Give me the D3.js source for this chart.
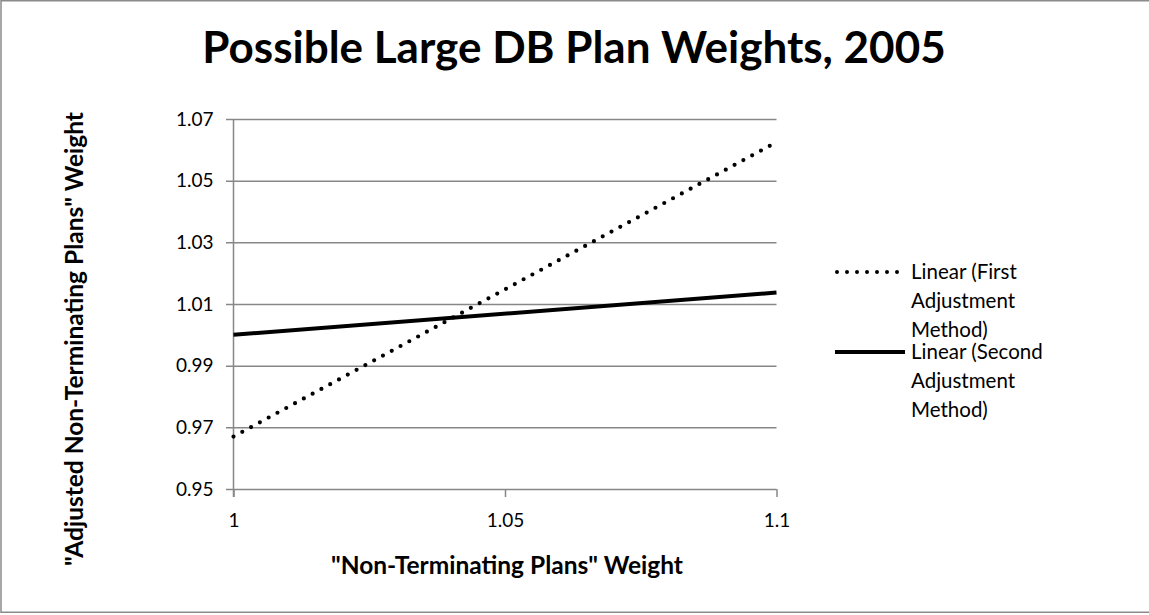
<!DOCTYPE html>
<html><head><meta charset="utf-8">
<script src="https://cdn.jsdelivr.net/npm/d3@7/dist/d3.min.js"></script>
<style>
html,body{margin:0;padding:0;background:#fff;overflow:hidden}
text{font-family:Lato,"Open Sans",sans-serif;fill:#000}
</style></head>
<body>
<svg id="chart" width="1149" height="615"></svg>
<script>
const xValues = [1, 1.1];
const firstMethod = [0.967, 1.0625];
const secondMethod = [1.0, 1.0137];
const seriesNames = ["Linear (First Adjustment Method)", "Linear (Second Adjustment Method)"];
const legendLines = [["Linear (First", "Adjustment", "Method)"], ["Linear (Second", "Adjustment", "Method)"]];
const yTicks = [0.95, 0.97, 0.99, 1.01, 1.03, 1.05, 1.07];
const yTickLabels = ["0.95", "0.97", "0.99", "1.01", "1.03", "1.05", "1.07"];
const xTicks = [1, 1.05, 1.1];
const xTickLabels = ["1", "1.05", "1.1"];
const title = "Possible Large DB Plan Weights, 2005";
const xTitle = "\"Non-Terminating Plans\" Weight";
const yTitle = "\"Adjusted Non-Terminating Plans\" Weight";

const svg = d3.select("#chart");
const grid = "#878787";

svg.append("rect").attr("x", 1).attr("y", 0.75).attr("width", 1160).attr("height", 611.5)
  .attr("fill", "#fff").attr("stroke", "#8a8a8a").attr("stroke-width", 1.5);

const x = d3.scaleLinear().domain([1, 1.1]).range([233.5, 776.5]);
const y = d3.scaleLinear().domain([0.95, 1.07]).range([489, 119]);

// title
svg.append("text").attr("x", 574).attr("y", 63).attr("text-anchor", "middle")
  .style("font-weight", "bold").style("font-size", "44px").text(title);

// y axis gridlines + labels
const yAxis = svg.append("g").attr("transform", `translate(${x(1)},0)`)
  .call(d3.axisLeft(y).tickValues(yTicks).tickFormat((d, i) => yTickLabels[i]).tickSize(0).tickPadding(20));
yAxis.select(".domain").remove();
yAxis.selectAll(".tick line").attr("x1", -7.5).attr("x2", x(1.1) - x(1)).attr("stroke", grid).attr("stroke-width", 1.5);
yAxis.selectAll(".tick text").style("font-size", "19px").style("font-family", "Lato").attr("fill", "#000");

// x axis
const xAxis = svg.append("g").attr("transform", `translate(0,${y(0.95)})`)
  .call(d3.axisBottom(x).tickValues(xTicks).tickFormat((d, i) => xTickLabels[i]).tickSize(8).tickPadding(17));
xAxis.select(".domain").remove();
xAxis.selectAll(".tick line").attr("stroke", grid).attr("stroke-width", 1.5);
xAxis.selectAll(".tick text").style("font-size", "19px").style("font-family", "Lato").attr("fill", "#000");

// y axis line
svg.append("line").attr("x1", x(1)).attr("x2", x(1)).attr("y1", y(1.07)).attr("y2", y(0.95) + 8)
  .attr("stroke", grid).attr("stroke-width", 1.5);

// series
const line = d3.line().x(d => x(d[0])).y(d => y(d[1]));
const d1 = xValues.map((v, i) => [v, firstMethod[i]]);
const d2 = xValues.map((v, i) => [v, secondMethod[i]]);
svg.append("path").attr("d", line(d2)).attr("fill", "none").attr("stroke", "#000").attr("stroke-width", 4);
svg.append("path").attr("d", line(d1)).attr("fill", "none").attr("stroke", "#000").attr("stroke-width", 4.2)
  .attr("stroke-linecap", "round").attr("stroke-dasharray", "0 10");

// axis titles
svg.append("text").attr("x", 507).attr("y", 574).attr("text-anchor", "middle")
  .style("font-weight", "bold").style("font-size", "24.5px").text(xTitle);
svg.append("text").attr("transform", "translate(83,339) rotate(-90)").attr("text-anchor", "middle")
  .style("font-weight", "bold").style("font-size", "24.5px").text(yTitle);

// legend
const legend = svg.append("g");
const lineH = 29;
const entryY = [272, 352];
legendLines.forEach((lines, k) => {
  const g = legend.append("g");
  const ln = g.append("line").attr("x1", 835).attr("x2", 905).attr("y1", entryY[k]).attr("y2", entryY[k])
    .attr("stroke", "#000").attr("stroke-width", 4);
  if (k === 0) ln.attr("stroke-linecap", "round").attr("stroke-dasharray", "0 10").attr("x1", 837);
  lines.forEach((t, j) => {
    g.append("text").attr("x", 911).attr("y", entryY[k] + j * lineH).attr("dy", "0.36em")
      .style("font-size", "20.5px").text(t);
  });
});
</script>
</body></html>
